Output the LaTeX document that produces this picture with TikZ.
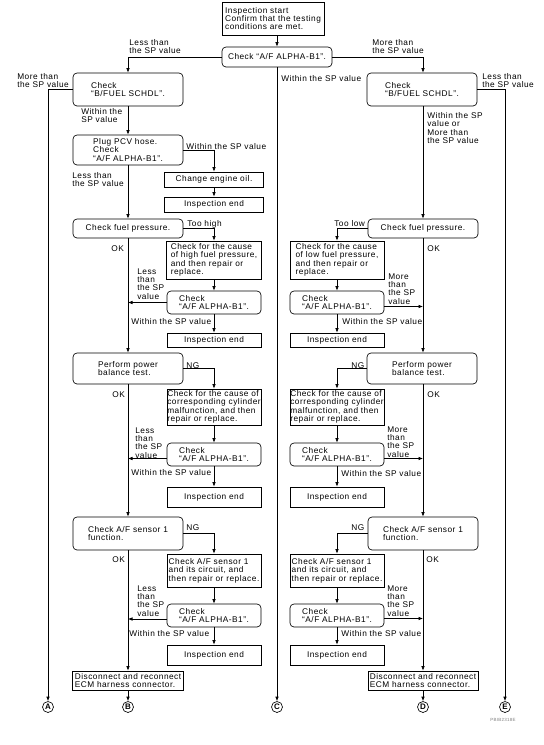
\documentclass[tikz,border=0pt]{standalone}
\usepackage{fontspec}
\setmainfont{Liberation Sans}[LetterSpace=6]
\usepackage{tikz}
\usetikzlibrary{arrows.meta}

\begin{document}
\begin{tikzpicture}[x=1pt, y=-1pt, line width=0.65pt,
    font=\fontsize{8.3}{8.4}\selectfont,
    >={Latex[length=4.5pt,width=3.6pt]},
    rbox/.style={draw, rounded corners=4pt, align=left, inner sep=0pt},
    sbox/.style={draw, align=left, inner sep=0pt},
    sz/.style 2 args={minimum width=#1pt, minimum height=#2pt},
    lbl/.style={anchor=north west, align=left, inner sep=0pt},
    endmark/.style={circle, draw, inner sep=0pt, minimum size=11pt, font=\fontsize{8}{8}\selectfont\bfseries}]
  \useasboundingbox (0,0) rectangle (544,745);

  % start
  \node[sbox, sz={102}{33}] (start) at (273,18.5) {Inspection start\\Confirm that the testing\\conditions are met.};
  \node[rbox, sz={110}{20}] (alpha) at (277,57) {Check “A/F ALPHA-B1”.};

  % left branch
  \node[rbox, sz={110}{33}] (fuelL) at (128,89.5) {Check\\“B/FUEL SCHDL”.};
  \node[rbox, sz={110}{30}] (pcv) at (128,150) {Plug PCV hose.\\Check\\“A/F ALPHA-B1”.};
  \node[sbox, sz={99}{15}] (oil) at (214,179.5) {Change engine oil.};
  \node[sbox, sz={99}{15}] (endoil) at (214,204.5) {Inspection end};
  \node[rbox, sz={110}{19}] (presL) at (128,228.5) {Check fuel pressure.};
  \node[sbox, sz={95}{38}] (causeL1) at (214,260) {Check for the cause\\of high fuel pressure,\\and then repair or\\replace.};
  \node[rbox, sz={94}{23}] (chkL1) at (214,302.5) {Check\\“A/F ALPHA-B1”.};
  \node[sbox, sz={94}{14}] (endL1) at (214,340) {Inspection end};
  \node[rbox, sz={110}{31}] (balL) at (128,368.5) {Perform power\\balance test.};
  \node[sbox, sz={94}{36}] (causeL2) at (214,407) {Check for the cause of\\corresponding cylinder\\malfunction, and then\\repair or replace.};
  \node[rbox, sz={94}{23}] (chkL2) at (214,454.5) {Check\\“A/F ALPHA-B1”.};
  \node[sbox, sz={94}{20}] (endL2) at (214,497) {Inspection end};
  \node[rbox, sz={110}{33}] (sensL) at (128,533.5) {Check A/F sensor 1\\function.};
  \node[sbox, sz={94}{33}] (causeL3) at (214,570.5) {Check A/F sensor 1\\and its circuit, and\\then repair or replace.};
  \node[rbox, sz={94}{23}] (chkL3) at (214,615.5) {Check\\“A/F ALPHA-B1”.};
  \node[sbox, sz={94}{20}] (endL3) at (214,655) {Inspection end};
  \node[sbox, sz={111}{19}] (ecmL) at (128,680.5) {Disconnect and reconnect\\ECM harness connector.};

  % right branch
  \node[rbox, sz={110}{33}] (fuelR) at (422,89.5) {Check\\“B/FUEL SCHDL”.};
  \node[rbox, sz={110}{19}] (presR) at (423,228.5) {Check fuel pressure.};
  \node[sbox, sz={94}{38}] (causeR1) at (337,260) {Check for the cause\\of low fuel pressure,\\and then repair or\\replace.};
  \node[rbox, sz={94}{23}] (chkR1) at (337,302.5) {Check\\“A/F ALPHA-B1”.};
  \node[sbox, sz={94}{14}] (endR1) at (337,340) {Inspection end};
  \node[rbox, sz={110}{31}] (balR) at (422,368.5) {Perform power\\balance test.};
  \node[sbox, sz={94}{36}] (causeR2) at (337,407) {Check for the cause of\\corresponding cylinder\\malfunction, and then\\repair or replace.};
  \node[rbox, sz={94}{23}] (chkR2) at (337,454.5) {Check\\“A/F ALPHA-B1”.};
  \node[sbox, sz={94}{20}] (endR2) at (337,497) {Inspection end};
  \node[rbox, sz={110}{33}] (sensR) at (423,533.5) {Check A/F sensor 1\\function.};
  \node[sbox, sz={94}{33}] (causeR3) at (337,570.5) {Check A/F sensor 1\\and its circuit, and\\then repair or replace.};
  \node[rbox, sz={94}{23}] (chkR3) at (337,615.5) {Check\\“A/F ALPHA-B1”.};
  \node[sbox, sz={94}{20}] (endR3) at (337,655) {Inspection end};
  \node[sbox, sz={110}{19}] (ecmR) at (423,680.5) {Disconnect and reconnect\\ECM harness connector.};

  % end marks
  \node[endmark] (A) at (48,707) {A};
  \node[endmark] (B) at (128,707) {B};
  \node[endmark] (C) at (277,707) {C};
  \node[endmark] (D) at (423,707) {D};
  \node[endmark] (E) at (505,707) {E};

  % connectors
  \draw[->] (start.south -| alpha.north) -- (alpha.north);
  \draw[->] (alpha.west) -| (fuelL.north);
  \draw[->] (alpha.east) -| (fuelR.north -| presR.north);
  \draw[->] (alpha.south) -- (C.north);
  \draw[->] (fuelL.west) -| (A.north);
  \draw[->] (fuelL) -- (pcv);
  \draw[->] (pcv.east) -| (oil.north);
  \draw[->] (oil) -- (endoil);
  \draw[->] (pcv) -- (presL);
  \draw[->] (presL.east) -| (causeL1.north);
  \draw[->] (causeL1) -- (chkL1);
  \draw[->] (chkL1.west) -- (chkL1.west -| presL.south);
  \draw[->] (chkL1) -- (endL1);
  \draw[->] (presL) -- (balL);
  \draw[->] (balL.east) -| (causeL2.north);
  \draw[->] (causeL2) -- (chkL2);
  \draw[->] ([yshift=-4pt]chkL2.west) -- ([yshift=-4pt]chkL2.west -| balL.south);
  \draw[->] (chkL2) -- (endL2);
  \draw[->] (balL) -- (sensL);
  \draw[->] (sensL.east) -| (causeL3.north);
  \draw[->] (causeL3) -- (chkL3);
  \draw[->] ([yshift=-3.5pt]chkL3.west) -- ([yshift=-3.5pt]chkL3.west -| sensL.south);
  \draw[->] (chkL3) -- (endL3);
  \draw[->] (sensL) -- (ecmL);
  \draw[->] (ecmL) -- (B);

  \draw[->] (fuelR.east) -| (E.north);
  \draw[->] (fuelR.south -| presR.north) -- (presR.north);
  \draw[->] (presR.west) -| (causeR1.north);
  \draw[->] (causeR1) -- (chkR1);
  \draw[->] ([yshift=-4pt]chkR1.east) -- ([yshift=-4pt]chkR1.east -| presR.south);
  \draw[->] (chkR1) -- (endR1);
  \draw[->] (presR.south) -- (presR.south |- balR.north);
  \draw[->] (balR.west) -| (causeR2.north);
  \draw[->] (causeR2) -- (chkR2);
  \draw[->] ([yshift=-4pt]chkR2.east) -- ([yshift=-4pt]chkR2.east -| presR.south);
  \draw[->] (chkR2) -- (endR2);
  \draw[->] (balR.south -| sensR.north) -- (sensR.north);
  \draw[->] (sensR.west) -| (causeR3.north);
  \draw[->] (causeR3) -- (chkR3);
  \draw[->] ([yshift=-3pt]chkR3.east) -- ([yshift=-3pt]chkR3.east -| sensR.south);
  \draw[->] (chkR3) -- (endR3);
  \draw[->] (sensR) -- (ecmR);
  \draw[->] (ecmR) -- (D);

  % branch labels
  \node[lbl] (l1) at (129,39) {Less than\\the SP value};
  \node[lbl] (l2) at (372,39) {More than\\the SP value};
  \node[lbl] (l3) at (281,75) {Within the SP value};
  \node[lbl] (l4) at (17,73) {More than\\the SP value};
  \node[lbl] (l5) at (482,73) {Less than\\the SP value};
  \node[lbl] (l6) at (81,108) {Within the\\SP value};
  \node[lbl] (l7) at (427,112) {Within the SP\\value or\\More than\\the SP value};
  \node[lbl] (l8) at (186,143) {Within the SP value};
  \node[lbl] (l9) at (72,172) {Less than\\the SP value};
  \node[lbl] (l10) at (187,220) {Too high};
  \node[lbl] (l11) at (111,245) {OK};
  \node[lbl] (l12) at (137,268) {Less\\than\\the SP\\value};
  \node[lbl] (l13) at (131,318) {Within the SP value};
  \node[lbl] (l14) at (186,362) {NG};
  \node[lbl] (l15) at (112,391) {OK};
  \node[lbl] (l16) at (135,427) {Less\\than\\the SP\\value};
  \node[lbl] (l17) at (131,469) {Within the SP value};
  \node[lbl] (l18) at (186,524) {NG};
  \node[lbl] (l19) at (112,556) {OK};
  \node[lbl] (l20) at (137,585) {Less\\than\\the SP\\value};
  \node[lbl] (l21) at (129,630) {Within the SP value};
  \node[lbl] (r1) at (334,220) {Too low};
  \node[lbl] (r2) at (427,245) {OK};
  \node[lbl] (r3) at (388,273) {More\\than\\the SP\\value};
  \node[lbl] (r4) at (342,318) {Within the SP value};
  \node[lbl] (r5) at (351,362) {NG};
  \node[lbl] (r6) at (427,391) {OK};
  \node[lbl] (r7) at (387,426) {More\\than\\the SP\\value};
  \node[lbl] (r8) at (341,470) {Within the SP value};
  \node[lbl] (r9) at (351,524) {NG};
  \node[lbl] (r10) at (426,556) {OK};
  \node[lbl] (r11) at (387,585) {More\\than\\the SP\\value};
  \node[lbl] (r12) at (341,630) {Within the SP value};

  \node[lbl, text=gray, font=\fontsize{4.5}{5}\selectfont] (code) at (490,718) {PBIB2318E};
\end{tikzpicture}
\end{document}
